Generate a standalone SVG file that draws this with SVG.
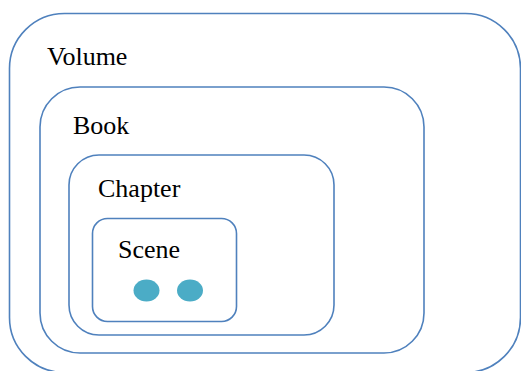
<svg xmlns="http://www.w3.org/2000/svg" width="521" height="371" viewBox="0 0 521 371">
<style>
.box{fill:none;stroke:#4F81BD;stroke-width:1.6}
.lbl{font-family:'Liberation Serif','Times New Roman',serif;font-size:26px;fill:#000}
.dot{fill:#4BACC6}
</style>
<rect width="521" height="371" fill="#fff"/>
<g id="volume">
<rect class="box" x="9.5" y="13.5" width="511" height="359" rx="55" ry="55"/>
<text class="lbl" x="47" y="65">Volume</text>
</g>
<g id="book">
<rect class="box" x="40" y="87" width="384" height="266" rx="40" ry="40"/>
<text class="lbl" x="73" y="134">Book</text>
</g>
<g id="chapter">
<rect class="box" x="69" y="155" width="265" height="180" rx="30" ry="30"/>
<text class="lbl" x="98" y="197">Chapter</text>
</g>
<g id="scene">
<rect class="box" x="92.5" y="218.5" width="144" height="103" rx="15" ry="15"/>
<text class="lbl" x="118" y="258">Scene</text>
<ellipse class="dot" cx="146.5" cy="290.5" rx="13" ry="11"/>
<ellipse class="dot" cx="190" cy="290.5" rx="13" ry="11"/>
</g>
<g id="connectors"></g>
</svg>
